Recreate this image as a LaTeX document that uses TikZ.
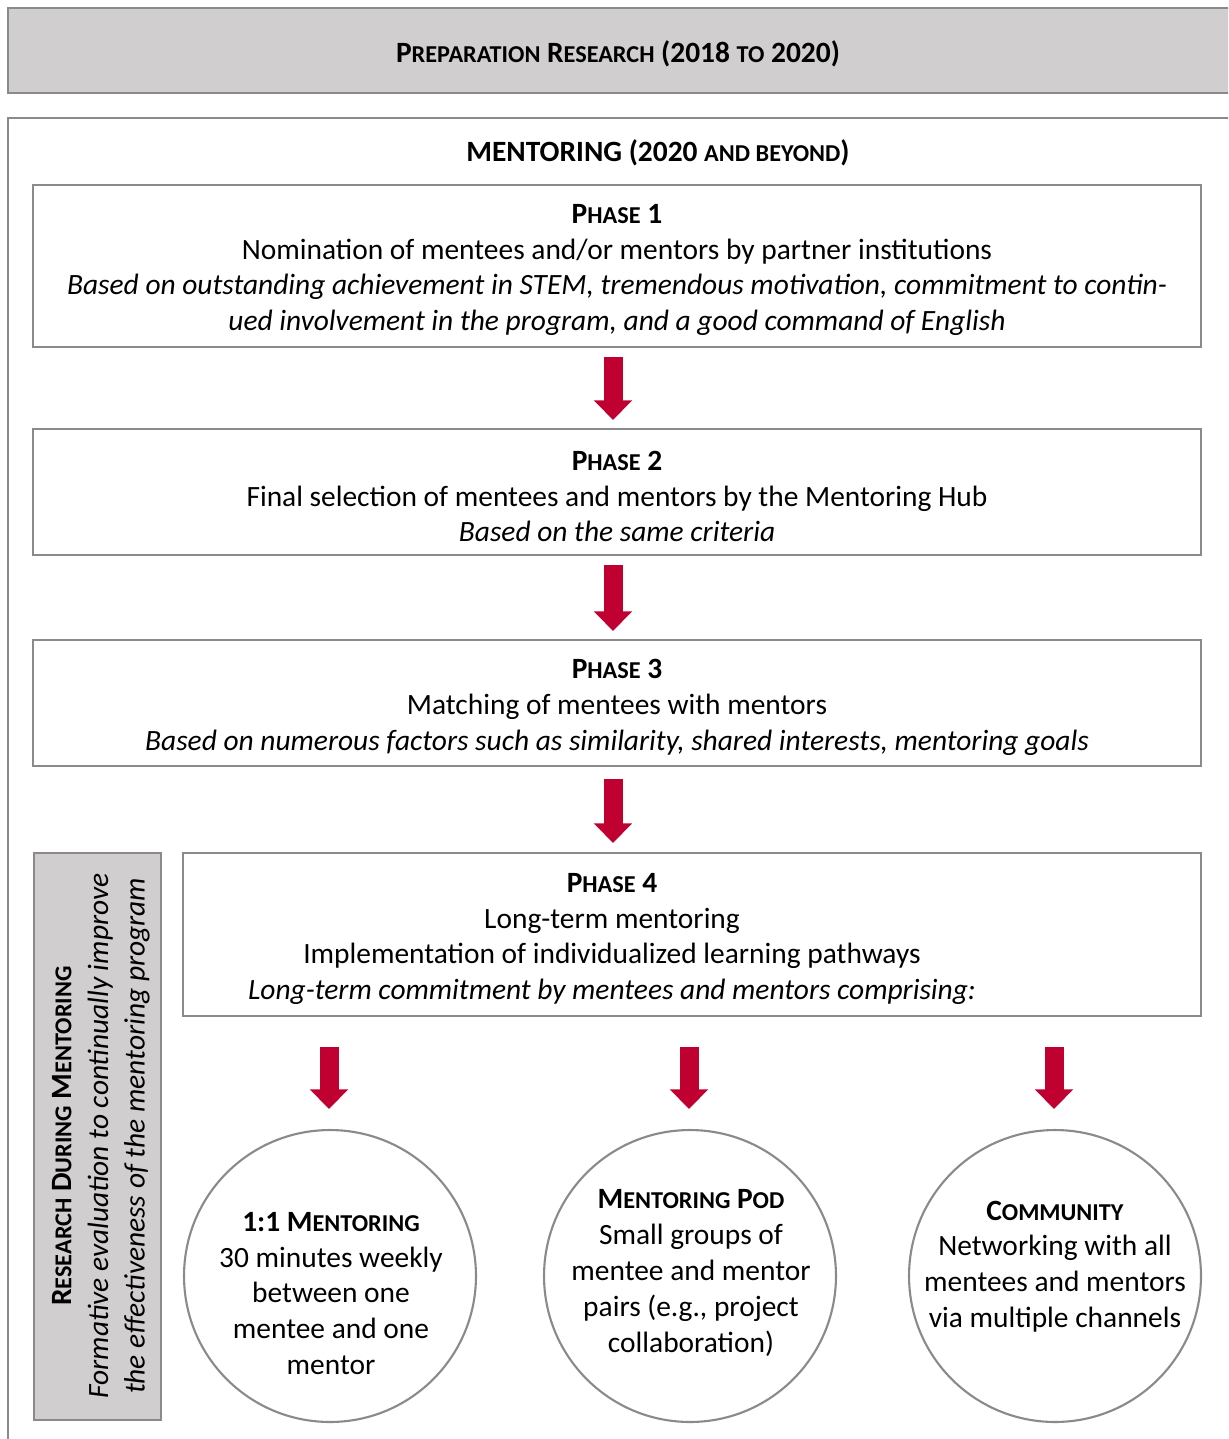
\documentclass[tikz,border=0pt]{standalone}
\usepackage{fontspec}
\setmainfont{Carlito}
\usetikzlibrary{arrows.meta}
\definecolor{boxgray}{HTML}{D0CECE}
\definecolor{linegray}{HTML}{8A8A8A}
\definecolor{arrowred}{HTML}{C00030}
\newcommand\bodyfont{\fontsize{16.75}{20.4}\selectfont}
\newcommand\smcp[1]{{\fontsize{13.8}{20.4}\selectfont #1}}
\begin{document}
\begin{tikzpicture}[x=0.02cm,y=-0.02cm,
  frame/.style={draw=linegray,line width=1.2pt},
  phasebox/.style={frame,fill=white,minimum width=23.36cm,align=center,inner sep=0pt,font=\bodyfont},
  txt/.style={align=center,inner sep=0pt,font=\bodyfont},
  stage/.style={frame,circle,minimum size=5.84cm,inner sep=0pt},
  bigarrow/.style={arrowred,line width=0.38cm,-{Triangle[width=0.74cm,length=0.39cm]}}
]
\clip (0,0) rectangle (1228,1439);
\fill[white] (0,0) rectangle (1228,1439);
% top box
\node[frame,fill=boxgray,minimum width=24.64cm,minimum height=1.7cm,inner sep=0pt,font=\bodyfont] (prep) at (624,50.5) {};
\node[txt] (preptxt) at (618,54) {\textbf{P\smcp{REPARATION} R\smcp{ESEARCH} (2018 \smcp{TO} 2020)}};
% outer box
\node[frame,minimum width=24.64cm,minimum height=26.64cm,inner sep=0pt] (outer) at (624,784) {};
\node[txt] (mtitle) at (658,153) {\textbf{MENTORING (2020 \smcp{AND BEYOND})}};
% phases
\node[phasebox,minimum height=3.24cm] (p1) at (617,266) {};
\node[txt] (p1t) at (617,270) {\textbf{P\smcp{HASE} 1}\\Nomination of mentees and/or mentors by partner institutions\\\textit{Based on outstanding achievement in STEM, tremendous motivation, commitment to contin-}\\\textit{ued involvement in the program, and a good command of English}};
\node[phasebox,minimum height=2.52cm] (p2) at (617,492) {};
\node[txt] (p2t) at (617,496.5) {\textbf{P\smcp{HASE} 2}\\Final selection of mentees and mentors by the Mentoring Hub\\\textit{Based on the same criteria}};
\node[phasebox,minimum height=2.52cm] (p3) at (617,703) {};
\node[txt] (p3t) at (617,707.5) {\textbf{P\smcp{HASE} 3}\\Matching of mentees with mentors\\\textit{Based on numerous factors such as similarity, shared interests, mentoring goals}};
\node[frame,fill=white,minimum width=20.36cm,minimum height=3.26cm,inner sep=0pt] (p4) at (692,934.5) {};
\node[txt] (p4t) at (612,939) {\textbf{P\smcp{HASE} 4}\\Long-term mentoring\\Implementation of individualized learning pathways\\\textit{Long-term commitment by mentees and mentors comprising:}};
% research box
\node[frame,fill=boxgray,minimum width=2.54cm,minimum height=11.34cm,inner sep=0pt] (rbox) at (97.5,1136.5) {};
\node[txt,rotate=90,font=\fontsize{16.75}{20.9}\selectfont] (rtxt) at (101,1136) {\textbf{R\smcp{ESEARCH} D\smcp{URING} M\smcp{ENTORING}}\\\textit{Formative evaluation to continually improve}\\\textit{the effectiveness of the mentoring program}};
% circles
\node[stage] (c1) at (330,1276) {};
\node[stage] (c2) at (690,1276) {};
\node[stage] (c3) at (1055,1276) {};
\node[txt] (c1t) at (331,1293.5) {\textbf{1:1 M\smcp{ENTORING}}\\30 minutes weekly\\between one\\mentee and one\\mentor};
\node[txt] (c2t) at (691,1273) {\textbf{M\smcp{ENTORING} P\smcp{OD}}\\Small groups of\\mentee and mentor\\pairs (e.g., project\\collaboration)};
\node[txt] (c3t) at (1055,1266.5) {\textbf{C\smcp{OMMUNITY}}\\Networking with all\\mentees and mentors\\via multiple channels};
% arrows
\draw[bigarrow,shorten <=0.18cm,shorten >=0.16cm] ([xshift=-0.08cm]p1.south) -- ([xshift=-0.08cm]p2.north);
\draw[bigarrow,shorten <=0.18cm,shorten >=0.16cm] ([xshift=-0.08cm]p2.south) -- ([xshift=-0.08cm]p3.north);
\draw[bigarrow,shorten <=0.24cm,shorten >=0.18cm] ([xshift=-0.08cm]p3.south) -- ([xshift=-0.08cm]p3.south |- p4.north);
\draw[bigarrow,shorten <=0.6cm,shorten >=0.4cm] ([xshift=-0.02cm]c1.north |- p4.south) -- ([xshift=-0.02cm]c1.north);
\draw[bigarrow,shorten <=0.6cm,shorten >=0.4cm] ([xshift=-0.02cm]c2.north |- p4.south) -- ([xshift=-0.02cm]c2.north);
\draw[bigarrow,shorten <=0.6cm,shorten >=0.4cm] ([xshift=-0.02cm]c3.north |- p4.south) -- ([xshift=-0.02cm]c3.north);
\end{tikzpicture}
\end{document}
